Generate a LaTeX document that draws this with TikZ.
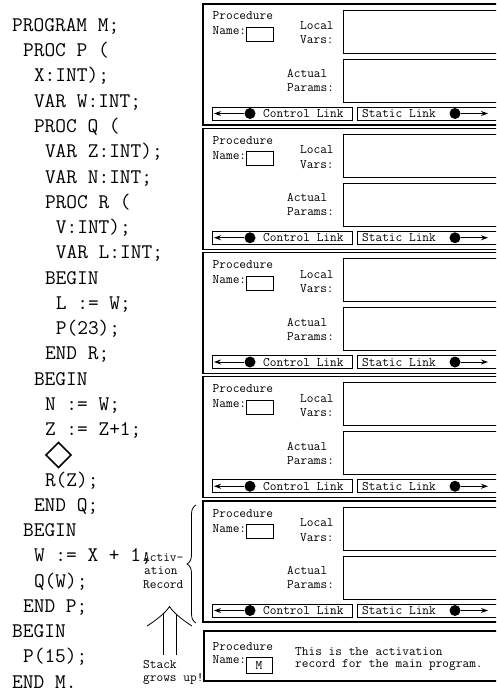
\documentclass[tikz,border=0pt]{standalone}
\usepackage{fontspec}
\usetikzlibrary{decorations.pathreplacing,arrows.meta}
\begin{document}
\begin{tikzpicture}[x=1pt,y=-1pt,
  code/.style={anchor=base west,inner sep=0,font=\fontsize{20.8}{25}\selectfont\ttfamily},
  lab/.style={anchor=base west,inner sep=0,font=\fontsize{13}{15}\selectfont\ttfamily},
  rec/.style={draw,line width=1.2},
  box/.style={draw,line width=0.9},
  dot/.style={circle,fill,inner sep=0,minimum size=11},
  link/.style={line width=0.9,-{Stealth[length=7,width=5]}}]
\useasboundingbox (0,0) rectangle (496,698);
\clip (0,0) rectangle (496,698);
% code listing
\node[code] (c0)  at (12.0, 31.5) {PROGRAM M;};
\node[code] (c1)  at (22.9, 56.75) {PROC P (};
\node[code] (c2)  at (33.8, 82.0) {X:INT);};
\node[code] (c3)  at (33.8,107.25) {VAR W:INT;};
\node[code] (c4)  at (33.8,132.5) {PROC Q (};
\node[code] (c5)  at (44.8,157.75) {VAR Z:INT);};
\node[code] (c6)  at (44.8,183.0) {VAR N:INT;};
\node[code] (c7)  at (44.8,208.25) {PROC R (};
\node[code] (c8)  at (55.7,233.5) {V:INT);};
\node[code] (c9)  at (55.7,258.75) {VAR L:INT;};
\node[code] (c10) at (44.8,284.0) {BEGIN};
\node[code] (c11) at (55.7,309.25) {L := W;};
\node[code] (c12) at (55.7,334.5) {P(23);};
\node[code] (c13) at (44.8,359.75) {END R;};
\node[code] (c14) at (33.8,385.0) {BEGIN};
\node[code] (c15) at (44.8,410.25) {N := W;};
\node[code] (c16) at (44.8,435.5) {Z := Z+1;};
\draw[line width=1.6] (46,455) -- (58.5,442.5) -- (71,455) -- (58.5,467.5) -- cycle;
\node[code] (c18) at (44.8,486.0) {R(Z);};
\node[code] (c19) at (33.8,511.25) {END Q;};
\node[code] (c20) at (22.9,536.5) {BEGIN};
\node[code] (c21) at (33.8,561.75) {W := X + 1;};
\node[code] (c22) at (33.8,587.0) {Q(W);};
\node[code] (c23) at (22.9,612.25) {END P;};
\node[code] (c24) at (12.0,637.5) {BEGIN};
\node[code] (c25) at (22.9,662.75) {P(15);};
\node[code] (c26) at (12.0,688.0) {END M.};
% activation records
\foreach \k in {0,...,4}{
  \pgfmathsetmacro\T{4+124.25*\k}
  \draw[rec] (203,\T) rectangle (510,\T+121);
  \node[lab] (pr\k) at (212.5,\T+16) {Procedure};
  \node[lab] (na\k) at (212.5,\T+31) {Name:};
  \node[box,inner sep=0,minimum width=27,minimum height=14,anchor=north west] (nm\k) at (246,\T+23) {};
  \node[lab] (lo\k) at (300,\T+25.5) {Local};
  \node[lab] (va\k) at (300,\T+40) {Vars:};
  \node[lab] (ac\k) at (287,\T+73.5) {Actual};
  \node[lab] (pa\k) at (287,\T+87.5) {Params:};
  \draw[box] (343,\T+6) rectangle (510,\T+49);
  \draw[box] (343,\T+55) rectangle (510,\T+98);
  \draw[box] (212,\T+103) rectangle (352,\T+116);
  \draw[box] (357,\T+103) rectangle (510,\T+116);
  \node[dot] (cd\k) at (250,\T+109.5) {};
  \coordinate (ce\k) at (214,\T+109.5);
  \draw[link] (cd\k) -- (ce\k);
  \node[lab] (cl\k) at (263,\T+113.5) {Control Link};
  \node[lab] (sl\k) at (362,\T+113.5) {Static Link};
  \node[dot] (sd\k) at (455,\T+109.5) {};
  \coordinate (se\k) at (488,\T+109.5);
  \draw[link] (sd\k) -- (se\k);
}
% main program record
\draw[rec] (204,631) rectangle (510,681);
\node[lab] (mpr) at (212.5,650) {Procedure};
\node[lab] (mna) at (212.5,663) {Name:};
\node[box,inner sep=0,minimum width=26,minimum height=16,anchor=north west] (mnm) at (246,657) {};
\node[lab,anchor=center] (mM) at (259,666) {M};
\node[lab] (mt1) at (295,655) {This is the activation};
\node[lab] (mt2) at (295,667.5) {record for the main program.};
% brace and its label
\draw[line width=0.8,decorate,decoration={brace,amplitude=9}] (196,623) -- (196,505);
\node[lab] (a1) at (143,561) {Activ-};
\node[lab] (a2) at (144,574) {ation};
\node[lab] (a3) at (143,588) {Record};
% stack arrow
\draw[line width=0.8] (163,655) -- (163,613.5);
\draw[line width=0.8] (176,655) -- (176,613.5);
\draw[line width=0.8] (147,626) .. controls (158,619) and (166,612) .. (169.5,606.5)
  .. controls (173,612) and (181,619) .. (192,626);
\node[lab] (s1) at (143,668) {Stack};
\node[lab] (s2) at (143,681) {grows up!};
\end{tikzpicture}
\end{document}
